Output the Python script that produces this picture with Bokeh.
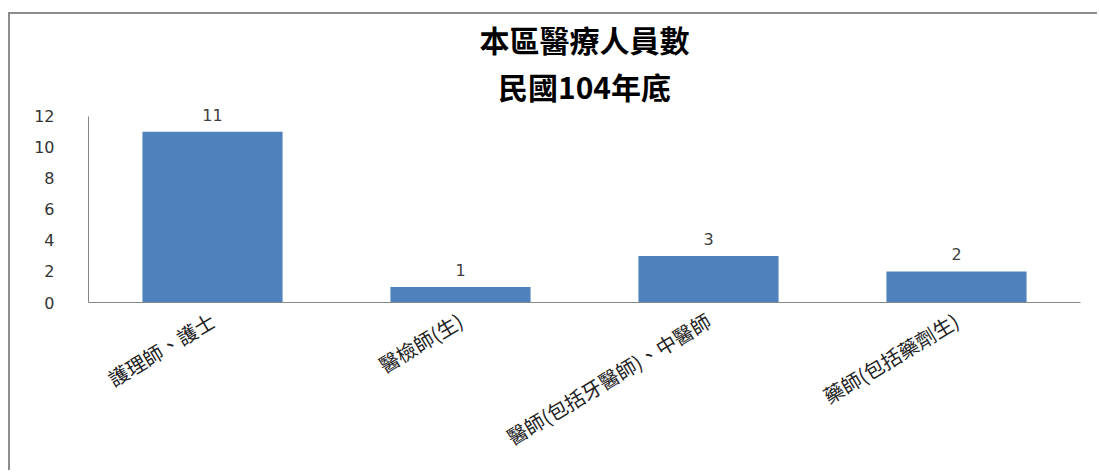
from bokeh.plotting import figure
from bokeh.models import ColumnDataSource, LabelSet, Title, FixedTicker
from bokeh.core.properties import value
from bokeh.embed import file_html
from bokeh.resources import INLINE
import math

categories = ["護理師、護士", "醫檢師(生)", "醫師(包括牙醫師)、中醫師", "藥師(包括藥劑生)"]
values = [11, 1, 3, 2]
y_ticks = [0, 2, 4, 6, 8, 10, 12]
title_lines = ["本區醫療人員數", "民國104年底"]

src = ColumnDataSource(dict(cat=categories, val=values, lab=[str(v) for v in values]))

p = figure(x_range=categories, y_range=(0, 12.5), width=1089, height=458,
           output_backend="svg", toolbar_location=None,
           min_border_left=78, min_border_right=19, min_border_top=87, min_border_bottom=170,
           styles={"border-left": "2px solid #8c8c8c", "border-top": "2px solid #8c8c8c",
                   "margin-top": "12px", "margin-left": "8px"})

p.vbar(x="cat", top="val", width=0.565, source=src, fill_color="#4F81BD", line_color=None)

p.add_layout(LabelSet(x="cat", y="val", text="lab", source=src, y_offset=11,
                      text_align="center", text_baseline="bottom",
                      text_font_size="16px", text_color="#404040",
                      text_font=value("DejaVu Sans")))

p.add_layout(Title(text=title_lines[1], align="center", offset=-25, standoff=2,
                   text_font_size="30px", text_font_style="bold",
                   text_font="Noto Sans CJK TC", text_color="#000000"), "above")
p.add_layout(Title(text=title_lines[0], align="center", offset=-36, standoff=0,
                   text_font_size="30px", text_font_style="bold",
                   text_font="Noto Sans CJK TC", text_color="#000000"), "above")

p.grid.visible = False
p.outline_line_color = None
p.background_fill_color = "white"

p.yaxis.ticker = FixedTicker(ticks=y_ticks)
p.yaxis.bounds = (0, 12)
p.yaxis.major_tick_line_color = None
p.yaxis.minor_tick_line_color = None
p.yaxis.axis_line_color = "#868686"
p.yaxis.major_label_text_font = "DejaVu Sans"
p.yaxis.major_label_text_font_size = "16px"
p.yaxis.major_label_text_color = "#333333"
p.yaxis.major_label_standoff = 28

p.xaxis.major_tick_line_color = None
p.xaxis.axis_line_color = "#868686"
p.xaxis.major_label_orientation = math.radians(31)
p.xaxis.major_label_text_font = "Noto Sans CJK TC"
p.xaxis.major_label_text_font_size = "20px"
p.xaxis.major_label_text_color = "#222222"
p.xaxis.major_label_standoff = 10

open("out.html", "w").write(file_html(p, INLINE))
